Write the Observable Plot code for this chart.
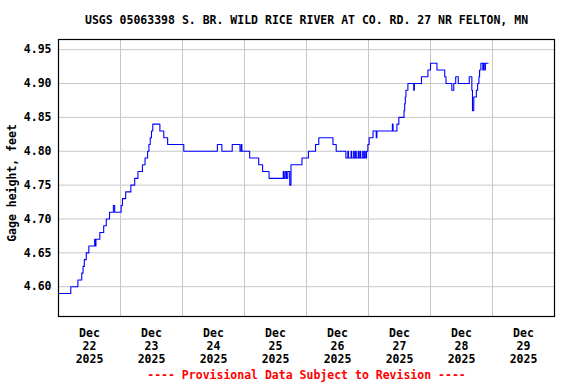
<!DOCTYPE html>
<html><head><meta charset="utf-8">
<script src="https://cdn.jsdelivr.net/npm/d3@7"></script>
<script src="https://cdn.jsdelivr.net/npm/@observablehq/plot@0.6"></script>
<style>html,body{margin:0;padding:0;background:#fff}</style>
</head><body><div id="chart"></div>
<script>
const title = "USGS 05063398 S. BR. WILD RICE RIVER AT CO. RD. 27 NR FELTON, MN";
const yLabel = "Gage height, feet";
const caption = "---- Provisional Data Subject to Revision ----";
const startDate = "2025-12-22T00:00Z";
const endDate = "2025-12-30T00:00Z";
// hours after Dec 22 00:00 at which the reading changes
const hoursFromStart = [0,4.75,7.5,9,9.5,10,10.75,11.75,14,14.25,14.5,16,17.5,18.5,19.75,21.25,21.75,24.25,24.75,26,28,29.5,30.75,32.5,33.5,34.5,35,35.5,36,36.5,39.25,40.75,42.25,48.5,61.5,63.25,67.25,70.25,70.75,71,74,77.5,79,81.5,87,87.25,87.75,88.25,88.75,89.5,90,94.25,96.75,99.5,100.75,106.25,107.5,
  111.25,112,112.25,113.25,113.5,114.25,114.5,115,115.25,116,116.25,116.75,117,117.75,118,118.5,118.75,119.25,
  119.75,120.25,121.75,123,123.25,129.25,129.5,131,131.75,133.75,134,134.25,134.5,135.25,137.5,137.75,140.5,143,144,146.5,149.5,150,152.25,153,153.75,154.75,159,160,160.25,160.75,161.75,162.25,162.75,163,163.5,164.25,164.5,165,165.25,166.25];
const gageHeight = [4.59,4.60,4.61,4.62,4.63,4.64,4.65,4.66,4.67,4.66,4.67,4.68,4.69,4.70,4.71,4.72,4.71,4.72,4.73,4.74,4.75,4.76,4.77,4.78,4.79,4.80,4.81,4.82,4.83,4.84,4.83,4.82,4.81,4.80,4.81,4.80,4.81,4.80,4.81,4.80,4.79,4.78,4.77,4.76,4.77,4.76,4.77,4.76,4.77,4.75,4.78,4.79,4.80,4.81,4.82,4.81,4.80,
  4.79,4.80,4.79,4.80,4.79,4.80,4.79,4.80,4.79,4.80,4.79,4.80,4.79,4.80,4.79,4.80,4.79,4.80,
  4.81,4.82,4.83,4.82,4.83,4.84,4.83,4.84,4.85,4.86,4.87,4.88,4.89,4.90,4.89,4.90,4.91,4.92,4.93,4.92,4.91,4.90,4.89,4.90,4.91,4.90,4.91,4.89,4.86,4.88,4.89,4.90,4.91,4.92,4.93,4.92,4.93,4.92,4.93,4.93];
const tickDates = ["2025-12-22T12:00Z","2025-12-23T12:00Z","2025-12-24T12:00Z","2025-12-25T12:00Z","2025-12-26T12:00Z","2025-12-27T12:00Z","2025-12-28T12:00Z","2025-12-29T12:00Z"];
const tickLabels = ["Dec\n22\n2025","Dec\n23\n2025","Dec\n24\n2025","Dec\n25\n2025","Dec\n26\n2025","Dec\n27\n2025","Dec\n28\n2025","Dec\n29\n2025"];
const gridDates = ["2025-12-23T00:00Z","2025-12-24T00:00Z","2025-12-25T00:00Z","2025-12-26T00:00Z","2025-12-27T00:00Z","2025-12-28T00:00Z","2025-12-29T00:00Z"];
const yTicks = [4.60,4.65,4.70,4.75,4.80,4.85,4.90,4.95];

const t0 = Date.parse(startDate);
const data = hoursFromStart.map((h, i) => ({date: new Date(t0 + h * 3600e3), value: gageHeight[i]}));
const ticks = tickDates.map(d => new Date(d));
const labelOf = new Map(ticks.map((d, i) => [+d, tickLabels[i]]));
const grids = gridDates.map(d => new Date(d));

const chart = Plot.plot({
  width: 576, height: 384,
  marginTop: 39, marginLeft: 58, marginRight: 22, marginBottom: 68,
  style: {fontFamily: "DejaVu Sans Mono", fontWeight: "bold", fontSize: "11.5px", background: "white", color: "black"},
  x: {type: "utc", domain: [new Date(startDate), new Date(endDate)], axis: null},
  y: {domain: [4.556, 4.965], axis: null},
  marks: [
    Plot.gridX(grids, {stroke: "#c8c8c8", strokeOpacity: 1, strokeWidth: 1}),
    Plot.gridY(yTicks, {stroke: "#c8c8c8", strokeOpacity: 1, strokeWidth: 1}),
    Plot.axisY(yTicks, {tickSize: 0, tickPadding: 7, tickFormat: d => d.toFixed(2), label: null, fill: "black"}),
    Plot.axisX(ticks, {tickSize: 0, tickPadding: 11, tickFormat: d => labelOf.get(+d), label: null, lineHeight: 1.13, fill: "black"}),
    Plot.line(data, {x: "date", y: "value", curve: "step-after", stroke: "#0000ff", strokeWidth: 1.1}),
    Plot.frame({stroke: "black", strokeWidth: 1.2}),
    Plot.text([title], {frameAnchor: "top", dy: -19, lineAnchor: "middle", text: d => d, fill: "black"}),
    Plot.text([yLabel], {frameAnchor: "left", dx: -46, dy: 5, rotate: -90, lineAnchor: "middle", textAnchor: "middle", text: d => d, fill: "black"}),
    Plot.text([caption], {frameAnchor: "bottom", dy: 59, lineAnchor: "middle", text: d => d, fill: "#ff0000"})
  ]
});
document.getElementById("chart").appendChild(chart);
</script>
</body></html>
